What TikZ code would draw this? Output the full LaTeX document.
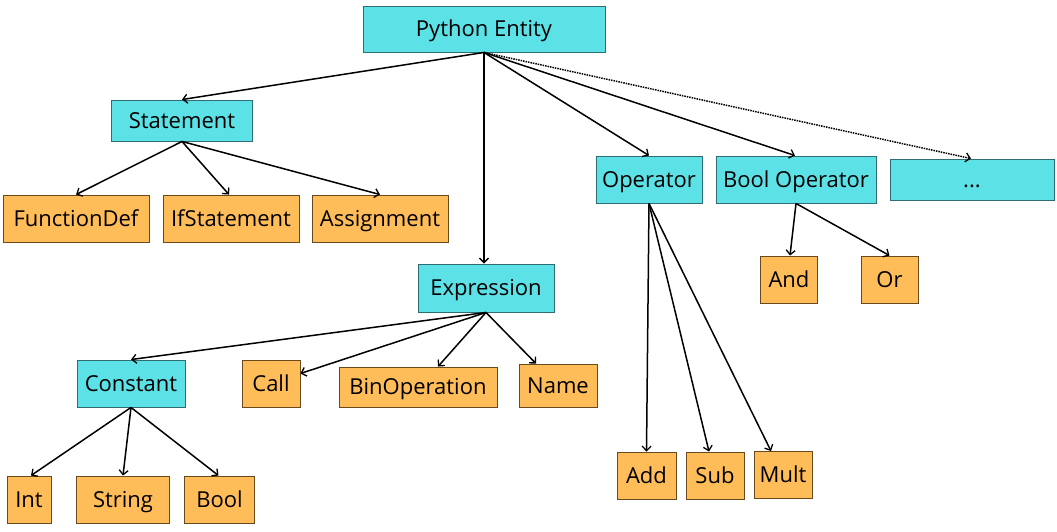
\documentclass[tikz,border=0pt]{standalone}
\usepackage{fontspec}
\setmainfont{Open Sans}
\usetikzlibrary{arrows.meta}
\definecolor{cyanbox}{HTML}{5CE1E6}
\definecolor{orangebox}{HTML}{FFBD59}
\definecolor{cyanedge}{HTML}{2E6E72}
\definecolor{orangeedge}{HTML}{6A4A1C}
\tikzset{
  base/.style={rectangle, inner sep=0pt, line width=0.9pt, font=\fontsize{22}{24}\selectfont, text=black, text height=15.7pt, text depth=0pt},
  cbox/.style={base, fill=cyanbox, draw=cyanedge},
  obox/.style={base, fill=orangebox, draw=orangeedge},
  link/.style={line width=1.5pt, -{Straight Barb[length=4.5pt,width=9pt,line width=1.3pt]}},
  dlink/.style={link, densely dotted},
}
\begin{document}
\begin{tikzpicture}[x=1pt,y=-1pt]
\useasboundingbox (0,0) rectangle (1057,531);
% level 0
\node[cbox, minimum width=242pt, minimum height=46pt] (py) at (484,29) {Python Entity};
% level 1
\node[cbox, minimum width=141pt, minimum height=41pt] (st) at (182,120.5) {Statement};
\node[cbox, minimum width=106pt, minimum height=47pt] (op) at (649,179.5) {Operator};
\node[cbox, minimum width=160pt, minimum height=47pt] (bo) at (796,179.5) {Bool Operator};
\node[cbox, minimum width=164pt, minimum height=41pt] (dots) at (972,179.5) {...};
\node[cbox, minimum width=136pt, minimum height=48pt] (ex) at (486,288) {Expression};
% statement children
\node[obox, minimum width=146pt, minimum height=47pt] (fd) at (76,218.5) {FunctionDef};
\node[obox, minimum width=136pt, minimum height=47pt] (if) at (231,218.5) {IfStatement};
\node[obox, minimum width=136pt, minimum height=47pt] (as) at (380,218.5) {Assignment};
% expression children
\node[cbox, minimum width=108pt, minimum height=47pt] (co) at (131,383.5) {Constant};
\node[obox, minimum width=58pt, minimum height=47pt] (ca) at (271,383.5) {Call};
\node[obox, minimum width=158pt, minimum height=40pt] (bin) at (418,387) {BinOperation};
\node[obox, minimum width=78pt, minimum height=43pt] (nm) at (558,385.5) {Name};
% constant children
\node[obox, minimum width=44pt, minimum height=47pt] (int) at (29,499.5) {Int};
\node[obox, minimum width=93pt, minimum height=47pt] (str) at (123,499.5) {String};
\node[obox, minimum width=70pt, minimum height=47pt] (bool) at (219.5,499.5) {Bool};
% operator children
\node[obox, minimum width=59pt, minimum height=47pt] (add) at (646.5,475.5) {Add};
\node[obox, minimum width=58pt, minimum height=47pt] (sub) at (715,475.5) {Sub};
\node[obox, minimum width=58pt, minimum height=47pt] (mul) at (783,475) {Mult};
% bool operator children
\node[obox, minimum width=57pt, minimum height=47pt] (and) at (789,279.5) {And};
\node[obox, minimum width=57pt, minimum height=47pt] (or) at (889.5,279.5) {Or};
% connectors
\draw[link] (py.south) -- (st.north);
\draw[link] (py.south) -- (ex.north -| py.south);
\draw[link] (py.south) -- (op.north);
\draw[link] (py.south) -- ([xshift=-1pt]bo.north);
\draw[dlink] (py.south) -- ([xshift=-1pt]dots.north);
\draw[link] (st.south) -- (fd.north);
\draw[link] (st.south) -- ([xshift=-2pt]if.north);
\draw[link] (st.south) -- (as.north);
\draw[link] (ex.south) -- (co.north);
\draw[link] (ex.south) -- ([yshift=10pt]ca.east);
\draw[link] (ex.south) -- ([xshift=20pt]bin.north);
\draw[link] (ex.south) -- ([xshift=-22pt]nm.north);
\draw[link] (co.south) -- ([xshift=2pt]int.north);
\draw[link] (co.south) -- (str.north);
\draw[link] (co.south) -- ([xshift=-1pt]bool.north);
\draw[link] (op.south) -- (add.north);
\draw[link] (op.south) -- ([xshift=-6pt]sub.north);
\draw[link] (op.south) -- ([xshift=-12pt]mul.north);
\draw[link] (bo.south) -- ([xshift=1pt]and.north);
\draw[link] (bo.south) -- (or.north);
\end{tikzpicture}
\end{document}
